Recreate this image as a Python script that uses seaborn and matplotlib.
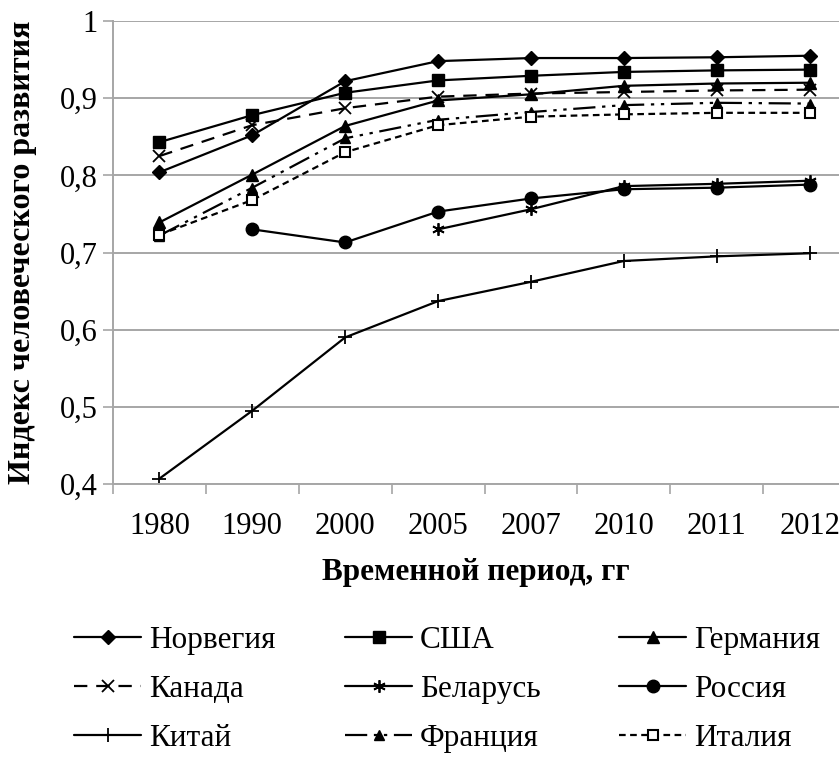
import numpy as np
import pandas as pd
import matplotlib
matplotlib.use('Agg')
import matplotlib.pyplot as plt
import seaborn as sns

# years on the category axis
years = ['1980', '1990', '2000', '2005', '2007', '2010', '2011', '2012']

# HDI values
norway = [0.804, 0.852, 0.922, 0.948, 0.952, 0.952, 0.953, 0.955]
usa = [0.843, 0.878, 0.907, 0.923, 0.929, 0.934, 0.936, 0.937]
germany = [0.739, 0.801, 0.864, 0.897, 0.905, 0.916, 0.919, 0.920]
canada = [0.825, 0.865, 0.887, 0.902, 0.906, 0.908, 0.910, 0.911]
belarus = [np.nan, np.nan, np.nan, 0.730, 0.756, 0.786, 0.789, 0.793]
russia = [np.nan, 0.730, 0.713, 0.753, 0.770, 0.782, 0.784, 0.788]
china = [0.407, 0.495, 0.590, 0.637, 0.662, 0.689, 0.695, 0.699]
france = [0.722, 0.784, 0.848, 0.872, 0.882, 0.891, 0.894, 0.893]
italy = [0.723, 0.768, 0.830, 0.865, 0.876, 0.879, 0.881, 0.881]

names = ['Норвегия', 'США', 'Германия', 'Канада', 'Беларусь', 'Россия',
         'Китай', 'Франция', 'Италия']
series = [norway, usa, germany, canada, belarus, russia, china, france, italy]

sns.set_theme(style='white')
plt.rcParams['font.family'] = ['Liberation Serif', 'DejaVu Serif']
plt.rcParams['text.color'] = 'black'
plt.rcParams['axes.labelcolor'] = 'black'
plt.rcParams['xtick.labelcolor'] = 'black'
plt.rcParams['ytick.labelcolor'] = 'black'

fig = plt.figure(figsize=(8.39, 7.58), dpi=100)
ax = fig.add_axes([113 / 839, 1 - 484 / 758, (856 - 113) / 839, (484 - 21) / 758])

styles = {
    'Норвегия': dict(marker='D', linestyle='-', ms=7, mfc='black'),
    'США': dict(marker='s', linestyle='-', ms=8, mfc='black'),
    'Германия': dict(marker='^', linestyle='-', ms=8, mfc='black'),
    'Канада': dict(marker='x', linestyle=(0, (6, 4)), ms=9, mfc='black', mew=1.3),
    'Беларусь': dict(marker=(6, 2, 0), linestyle='-', ms=9, mew=1.3),
    'Россия': dict(marker='o', linestyle='-', ms=9, mfc='black'),
    'Китай': dict(marker='+', linestyle='-', ms=10, mew=1.3),
    'Франция': dict(marker='^', linestyle=(0, (10, 3, 1.5, 3, 1.5, 3)), ms=7, mfc='black'),
    'Италия': dict(marker='s', linestyle=(0, (3, 2)), ms=7, mfc='white', mew=1.5),
}

x = np.arange(len(years))
for name, vals in zip(names, series):
    df = pd.DataFrame({'x': x, 'y': vals}).dropna()
    st = styles[name]
    sns.lineplot(data=df, x='x', y='y', ax=ax, color='black', lw=1.6,
                 marker=st['marker'], linestyle=st['linestyle'],
                 markersize=st['ms'], markerfacecolor=st.get('mfc', 'black'),
                 markeredgecolor='black', markeredgewidth=st.get('mew', 1.0),
                 label=name, legend=False)

grid_c = '#a6a6a6'
ax.set_xlim(-0.5, len(years) - 0.5)
ax.set_ylim(0.4, 1.0)
ax.set_yticks(np.arange(0.4, 1.01, 0.1))
ax.set_yticklabels(['0,4', '0,5', '0,6', '0,7', '0,8', '0,9', '1'])
ax.set_xticks(x)
ax.set_xticklabels(years)
ax.set_xticks(np.arange(-0.5, len(years), 1.0), minor=True)
ax.tick_params(axis='x', which='major', length=0, labelsize=22, pad=20)
ax.tick_params(axis='x', which='minor', length=7, width=1.2, color=grid_c,
               direction='out', bottom=True)
ax.tick_params(axis='y', length=7, width=1.2, color=grid_c, labelsize=22,
               direction='out', left=True, pad=4)
ax.yaxis.grid(True, color=grid_c, lw=1.4)
ax.xaxis.grid(False)
for s in ['top', 'right']:
    ax.spines[s].set_visible(False)
for s in ['left', 'bottom']:
    ax.spines[s].set_color(grid_c)
    ax.spines[s].set_linewidth(1.4)

ax.set_xlabel('Временной период, гг', fontsize=22.5, fontweight='bold')
ax.set_ylabel('Индекс человеческого развития', fontsize=23, fontweight='bold')
ax.xaxis.set_label_coords((476 - 113) / (856 - 113), -0.16)
ax.yaxis.set_label_coords((37 - 113) / (856 - 113), 0.5)

# legend: three separate columns, filled row by row like the original
lines = {ln.get_label(): ln for ln in ax.get_lines()}
col_names = [['Норвегия', 'Канада', 'Китай'],
             ['США', 'Беларусь', 'Франция'],
             ['Германия', 'Россия', 'Италия']]
col_x = [74, 345, 619]
for cx, cn in zip(col_x, col_names):
    leg = fig.legend([lines[n] for n in cn], cn, loc='upper left',
                     bbox_to_anchor=(cx / 839, 1 - 626 / 758), frameon=False,
                     fontsize=22.5, handlelength=2.15, handletextpad=0.25,
                     labelspacing=0.64, borderpad=0, borderaxespad=0)

fig.savefig('out.png', dpi=100)
